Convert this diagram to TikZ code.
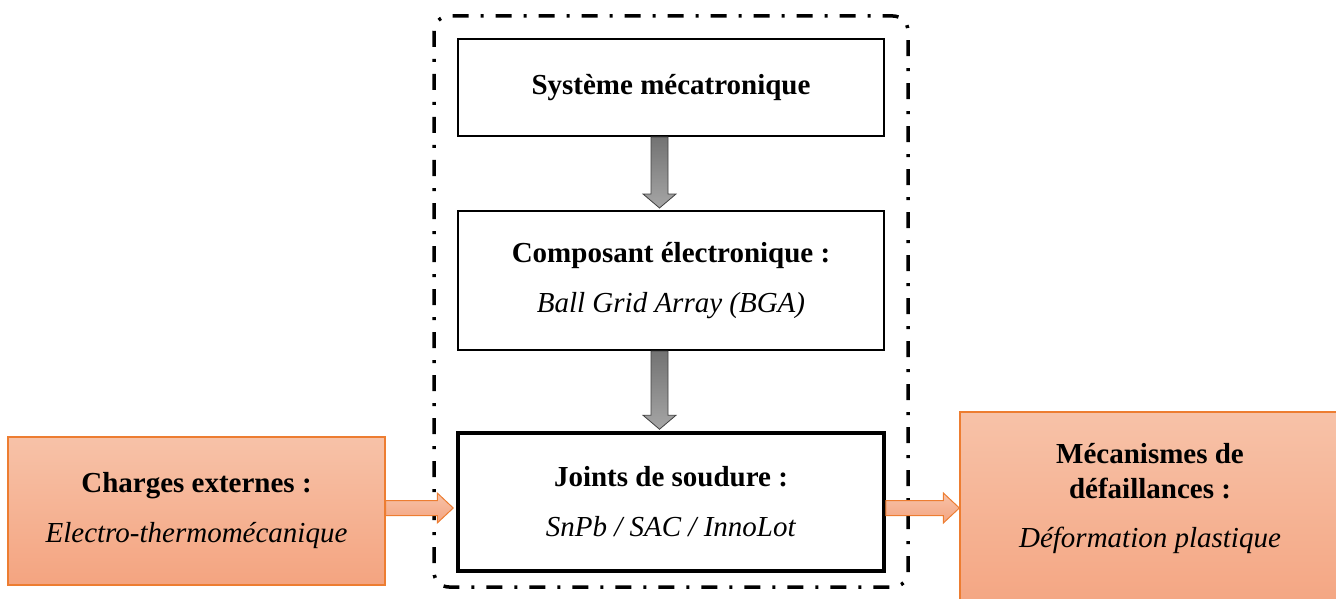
\documentclass[tikz,border=0pt]{standalone}
\usepackage{fontspec}
\setmainfont{Liberation Serif}
\usetikzlibrary{calc}

\definecolor{orangeline}{RGB}{237,125,49}
\definecolor{orangetop}{RGB}{247,194,168}
\definecolor{orangebot}{RGB}{244,164,128}

\begin{document}
\begin{tikzpicture}[x=1pt, y=-1pt,
    every node/.style={font=\fontsize{29}{35}\selectfont, align=center, inner sep=0pt},
    blockbox/.style={draw, line width=2pt, minimum width=426pt},
    loadbox/.style={draw=orangeline, line width=1.3pt, top color=orangetop, bottom color=orangebot},
    grayarrow/.style={draw=black!75, line width=0.8pt, top color=black!55, bottom color=black!35},
    orangearrow/.style={draw=orangeline, line width=1pt, top color=orangetop, bottom color=orangebot},
    frame/.style={line width=3.5pt, rounded corners=15pt, dash pattern=on 16pt off 12pt on 3pt off 12pt}]
    \useasboundingbox (0,0) rectangle (1336,599);

    % chain of the system
    \node[blockbox, minimum height=97pt] (sys) at (671,87.5) {\textbf{Système mécatronique}};
    \node[blockbox, minimum height=139pt] (comp) at (671,280.5)
        {\textbf{Composant électronique :}\\[15pt]\textit{Ball Grid Array (BGA)}};
    \node[blockbox, line width=3.5pt, minimum height=138pt] (joint) at (671,502)
        {\textbf{Joints de soudure :}\\[15pt]\textit{SnPb / SAC / InnoLot}};
    \draw[frame] (434,16) rectangle (908,587);

    % loads and failures
    \node[loadbox, minimum width=377pt, minimum height=148pt] (load) at (196.5,511)
        {\textbf{Charges externes :}\\[15pt]\textit{Electro-thermomécanique}};
    \node[loadbox, minimum width=380pt, minimum height=208pt] (fail) at (1150,516)
        {\textbf{Mécanismes de}\\\textbf{défaillances :}\\[14pt]\textit{Déformation plastique}\rule[-42pt]{0pt}{42pt}};

    % gray arrows
    \foreach \a/\b in {sys/comp, comp/joint} {
        \draw[grayarrow] ($(\a.south)+(-20,0)$) -- ($(\b.north)+(-20,-16)$) -- ($(\b.north)+(-28,-16)$)
            -- ($(\b.north)+(-11.5,-2)$) -- ($(\b.north)+(5,-16)$) -- ($(\b.north)+(-3,-16)$)
            -- ($(\a.south)+(-3,0)$) -- cycle;
    }

    % orange arrows
    \coordinate (la) at ($(load.east |- joint.west)+(0,6)$);
    \coordinate (lb) at ($(joint.west)+(-3,6)$);
    \coordinate (ra) at ($(joint.east)+(0,6)$);
    \coordinate (rb) at ($(fail.west |- joint.east)+(0,6)$);
    \foreach \s/\t in {la/lb, ra/rb} {
        \draw[orangearrow] ($(\s)+(0,-7.5)$) -- ($(\t)+(-16,-7.5)$) -- ($(\t)+(-16,-15)$) -- (\t)
            -- ($(\t)+(-16,15)$) -- ($(\t)+(-16,7.5)$) -- ($(\s)+(0,7.5)$) -- cycle;
    }
\end{tikzpicture}
\end{document}
